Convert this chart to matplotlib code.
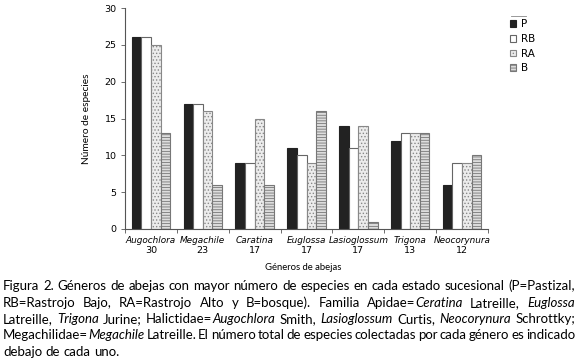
import numpy as np
import matplotlib
matplotlib.use('Agg')
import matplotlib.pyplot as plt
from matplotlib.lines import Line2D

GENEROS = ['Augochlora', 'Megachile', 'Caratina', 'Euglossa',
           'Lasioglossum', 'Trigona', 'Neocorynura']
TOTALES = [30, 23, 17, 17, 17, 13, 12]
P = [26, 17, 9, 11, 14, 12, 6]
RB = [26, 17, 9, 10, 11, 13, 9]
RA = [25, 16, 15, 9, 14, 13, 9]
B = [13, 6, 6, 16, 1, 13, 10]
SERIES = ['P', 'RB', 'RA', 'B']

CAPTION = [
    'Figura 2. Géneros de abejas con mayor número de especies en cada estado sucesional (P=Pastizal,',
    'RB=Rastrojo Bajo, RA=Rastrojo Alto y B=bosque). Familia Apidae=*Ceratina* Latreille, *Euglossa*',
    'Latreille, *Trigona* Jurine; Halictidae=*Augochlora* Smith, *Lasioglossum* Curtis, *Neocorynura* Schrottky;',
    'Megachilidae=*Megachile* Latreille. El número total de especies colectadas por cada género es indicado',
    'debajo de cada uno.',
]

W, H = 580, 364
fig = plt.figure(figsize=(W / 100, H / 100), dpi=100)
ax = fig.add_axes([125 / W, 1 - 229 / H, 363 / W, 221 / H])

x = np.arange(len(GENEROS))
w = 0.185
styles = [
    dict(color='#222222', edgecolor='#222222'),
    dict(color='white', edgecolor='#666666'),
    dict(color='#ececec', edgecolor='#888888', hatch='.....'),
    dict(color='#dddddd', edgecolor='#777777', hatch='------'),
]
plt.rcParams['hatch.linewidth'] = 0.6
for i, (vals, st) in enumerate(zip([P, RB, RA, B], styles)):
    ax.bar(x + (i - 1.5) * w, vals, w, linewidth=0.8, label=SERIES[i], **st)

ax.set_xlim(-0.5, len(GENEROS) - 0.5)
ax.set_ylim(0, 30)
ax.set_yticks(range(0, 31, 5))
ax.tick_params(axis='y', labelsize=6.8, length=3, width=0.6, color='#555555', pad=3)
ax.set_xticks(x)
ax.set_xticklabels(GENEROS, fontstyle='italic', fontsize=6.4)
ax.tick_params(axis='x', which='major', length=0, pad=5)
ax.set_xticks(np.arange(-0.5, len(GENEROS), 1), minor=True)
ax.tick_params(axis='x', which='minor', length=3, width=0.6, color='#555555')
for s in ['top', 'right']:
    ax.spines[s].set_visible(False)
for s in ['left', 'bottom']:
    ax.spines[s].set_color('#555555')
    ax.spines[s].set_linewidth(0.8)

# totals under each genus
for xi, t in zip(x, TOTALES):
    ax.annotate(str(t), (xi, 0), xycoords=('data', 'axes fraction'),
                xytext=(0, -21.5), textcoords='offset pixels',
                ha='center', va='center', fontsize=6.8)

ax.set_ylabel('Número de especies', family='Lato', fontsize=7.3, labelpad=10)

fig.text(303 / W, 1 - 268 / H, 'Géneros de abejas', family='Lato', fontsize=6.8,
         ha='center', va='center')

leg = fig.legend(loc='upper left', bbox_to_anchor=(505 / W, 1 - 14 / H), frameon=False,
                 fontsize=7.5, handlelength=0.6, handleheight=0.6, handletextpad=0.4,
                 labelspacing=0.45, borderpad=0)
fig.add_artist(Line2D([511 / W, 526 / W], [1 - 16 / H, 1 - 16 / H], color='#888888', lw=0.6))

# justified caption
renderer = fig.canvas.get_renderer()
left, right = 3, 575
ys = [290, 307, 323, 339, 356]


def pieces_of(word, state):
    parts = word.split('*')
    out = []
    for k, p in enumerate(parts):
        if k > 0:
            state = not state
        if p:
            out.append((p, state))
    return out, state


def width_of(txt, italic, fs):
    t = fig.text(0, 0, txt, family='Lato', fontsize=fs,
                 fontstyle='italic' if italic else 'normal')
    bb = t.get_window_extent(renderer)
    t.remove()
    return bb.width


# pick a size so the first line nearly fills the width
fs = 10 * 566 / width_of(CAPTION[0], False, 10)

for n, (line, yy) in enumerate(zip(CAPTION, ys)):
    words = []
    state = False
    for wd in line.split(' '):
        pcs, state = pieces_of(wd, state)
        words.append(pcs)
    widths = [sum(width_of(p, it, fs) for p, it in pcs) for pcs in words]
    if n < len(CAPTION) - 1:
        gap = (right - left - sum(widths)) / (len(words) - 1)
    else:
        gap = width_of('a b', False, fs) - width_of('ab', False, fs)
    cx = left
    for pcs, wd in zip(words, widths):
        px = cx
        for p, it in pcs:
            fig.text(px / W, 1 - yy / H, p, family='Lato', fontsize=fs,
                     fontstyle='italic' if it else 'normal', va='baseline')
            px += width_of(p, it, fs)
        cx += wd + gap

fig.savefig('out.png', dpi=100)
